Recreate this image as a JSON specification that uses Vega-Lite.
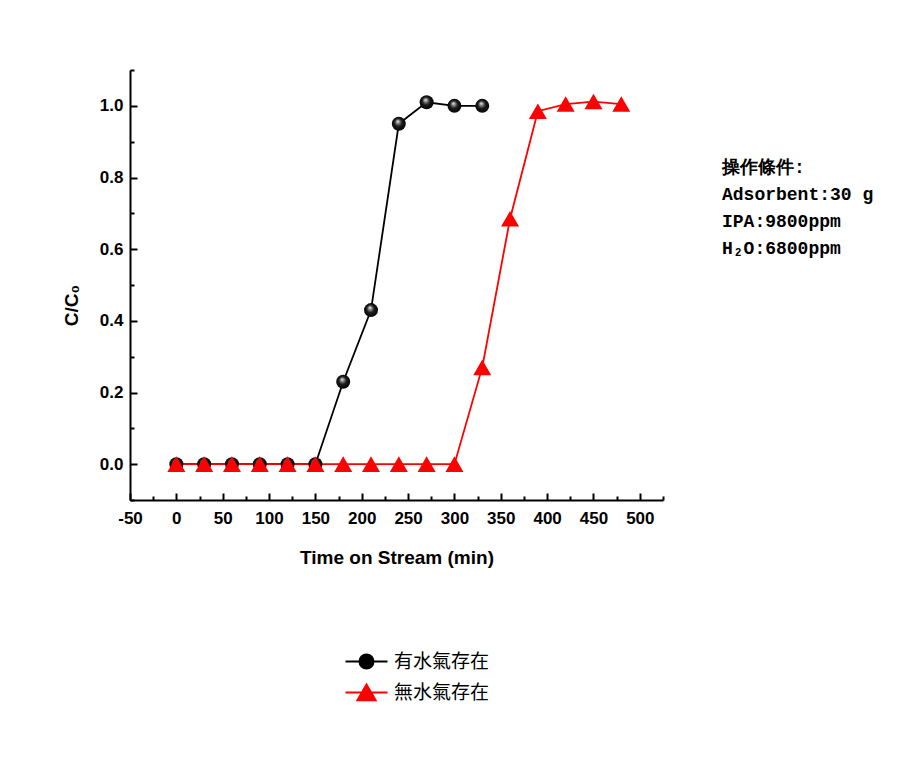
{
  "$schema": "https://vega.github.io/schema/vega-lite/v6.json",
  "width": 533,
  "height": 430,
  "autosize": {"type": "none"},
  "padding": {"left": 130, "top": 70, "right": 252, "bottom": 260},
  "background": "white",
  "title": {
    "text": ["操作條件:", "Adsorbent:30 g", "IPA:9800ppm", "H₂O:6800ppm"],
    "anchor": "start",
    "orient": "top",
    "frame": "group",
    "dx": 592,
    "dy": 197,
    "offset": 0,
    "baseline": "top",
    "font": "Liberation Mono",
    "fontSize": 18,
    "fontWeight": "bold",
    "lineHeight": 27,
    "color": "black"
  },
  "data": {
    "values": [
      {"series": "有水氣存在", "t": 0, "c": 0},
      {"series": "有水氣存在", "t": 30, "c": 0},
      {"series": "有水氣存在", "t": 60, "c": 0},
      {"series": "有水氣存在", "t": 90, "c": 0},
      {"series": "有水氣存在", "t": 120, "c": 0},
      {"series": "有水氣存在", "t": 150, "c": 0},
      {"series": "有水氣存在", "t": 180, "c": 0.23},
      {"series": "有水氣存在", "t": 210, "c": 0.43},
      {"series": "有水氣存在", "t": 240, "c": 0.95},
      {"series": "有水氣存在", "t": 270, "c": 1.01},
      {"series": "有水氣存在", "t": 300, "c": 1.0},
      {"series": "有水氣存在", "t": 330, "c": 1.0},
      {"series": "無水氣存在", "t": 0, "c": 0},
      {"series": "無水氣存在", "t": 30, "c": 0},
      {"series": "無水氣存在", "t": 60, "c": 0},
      {"series": "無水氣存在", "t": 90, "c": 0},
      {"series": "無水氣存在", "t": 120, "c": 0},
      {"series": "無水氣存在", "t": 150, "c": 0},
      {"series": "無水氣存在", "t": 180, "c": 0},
      {"series": "無水氣存在", "t": 210, "c": 0},
      {"series": "無水氣存在", "t": 240, "c": 0},
      {"series": "無水氣存在", "t": 270, "c": 0},
      {"series": "無水氣存在", "t": 300, "c": 0},
      {"series": "無水氣存在", "t": 330, "c": 0.27},
      {"series": "無水氣存在", "t": 360, "c": 0.685},
      {"series": "無水氣存在", "t": 390, "c": 0.985},
      {"series": "無水氣存在", "t": 420, "c": 1.005},
      {"series": "無水氣存在", "t": 450, "c": 1.012},
      {"series": "無水氣存在", "t": 480, "c": 1.005}
    ]
  },
  "encoding": {
    "x": {
      "field": "t",
      "type": "quantitative",
      "scale": {"domain": [-50, 525], "nice": false, "zero": false},
      "axis": {
        "values": [-50, -25, 0, 25, 50, 75, 100, 125, 150, 175, 200, 225, 250, 275, 300, 325, 350, 375, 400, 425, 450, 475, 500, 525],
        "labelExpr": "datum.value % 50 == 0 ? '' + datum.value : ''",
        "labelOverlap": false,
        "labelFlush": false,
        "grid": false,
        "tickSize": {"condition": {"test": "datum.value % 50 == 0", "value": -7}, "value": -4},
        "tickColor": "black",
        "tickWidth": 2,
        "domainColor": "black",
        "domainWidth": 2,
        "labelPadding": 17,
        "labelFont": "Liberation Sans",
        "labelFontWeight": "bold",
        "labelFontSize": 17,
        "labelColor": "black",
        "title": "Time on Stream (min)",
        "titleFont": "Liberation Sans",
        "titleFontWeight": "bold",
        "titleFontSize": 19,
        "titleColor": "black",
        "titleBaseline": "top",
        "titleY": 48
      }
    },
    "y": {
      "field": "c",
      "type": "quantitative",
      "scale": {"domain": [-0.1, 1.1], "nice": false, "zero": false},
      "axis": {
        "values": [-0.1, 0, 0.1, 0.2, 0.3, 0.4, 0.5, 0.6, 0.7, 0.8, 0.9, 1.0, 1.1],
        "labelExpr": "round(datum.value * 10) % 2 == 0 ? format(datum.value, '.1f') : ''",
        "labelOverlap": false,
        "labelFlush": false,
        "grid": false,
        "tickSize": {"condition": {"test": "round(datum.value * 10) % 2 == 0", "value": -7}, "value": -4},
        "tickColor": "black",
        "tickWidth": 2,
        "domainColor": "black",
        "domainWidth": 2,
        "labelPadding": 14,
        "labelFont": "Liberation Sans",
        "labelFontWeight": "bold",
        "labelFontSize": 17,
        "labelColor": "black",
        "title": "C/C₀",
        "titleFont": "Liberation Sans",
        "titleFontWeight": "bold",
        "titleFontSize": 19,
        "titleColor": "black",
        "titleAngle": 270,
        "titleBaseline": "alphabetic",
        "titleAlign": "center",
        "titleX": -53,
        "titleY": 235
      }
    }
  },
  "layer": [
    {
      "mark": {"type": "line", "strokeWidth": 1.8},
      "encoding": {
        "color": {
          "field": "series",
          "type": "nominal",
          "scale": {"domain": ["有水氣存在", "無水氣存在"], "range": ["#000000", "#ff0000"]},
          "legend": {
            "title": null,
            "orient": "none",
            "legendX": 227,
            "legendY": 582,
            "padding": 0,
            "symbolSize": 196,
            "symbolStrokeWidth": 2,
            "labelOffset": 18,
            "rowPadding": 7,
            "labelFont": "Noto Sans CJK TC",
            "labelFontSize": 19,
            "labelColor": "black",
            "encode": {
              "symbols": {
                "update": {
                  "shape": {"signal": "datum.value === '有水氣存在' ? 'M-3,0H-1M1,0H3M-1,0A1,1,0,1,1,1,0A1,1,0,1,1,-1,0Z' : 'M-3,0H3M0,-1.15L1.3,1.1L-1.3,1.1Z'"},
                  "fill": {"signal": "datum.value === '有水氣存在' ? '#000000' : '#ff0000'"},
                  "stroke": {"signal": "datum.value === '有水氣存在' ? '#000000' : '#ff0000'"},
                  "strokeWidth": {"value": 2},
                  "size": {"value": 196},
                  "opacity": {"value": 1}
                }
              }
            }
          }
        }
      }
    },
    {
      "transform": [{"filter": "datum.series === '有水氣存在'"}],
      "mark": {
        "type": "point",
        "shape": "circle",
        "filled": true,
        "size": 196,
        "opacity": 1,
        "strokeWidth": 0,
        "fill": {
          "gradient": "radial",
          "x1": 0.42, "y1": 0.32, "r1": 0,
          "x2": 0.5, "y2": 0.5, "r2": 0.55,
          "stops": [
            {"offset": 0, "color": "#ffffff"},
            {"offset": 0.18, "color": "#9a9a9a"},
            {"offset": 0.5, "color": "#1c1c1c"},
            {"offset": 1, "color": "#000000"}
          ]
        }
      }
    },
    {
      "transform": [{"filter": "datum.series === '無水氣存在'"}],
      "mark": {
        "type": "point",
        "shape": "triangle-up",
        "filled": true,
        "size": 324,
        "opacity": 1,
        "strokeWidth": 0,
        "fill": "#ff0000"
      }
    }
  ],
  "config": {
    "view": {"stroke": null}
  }
}
